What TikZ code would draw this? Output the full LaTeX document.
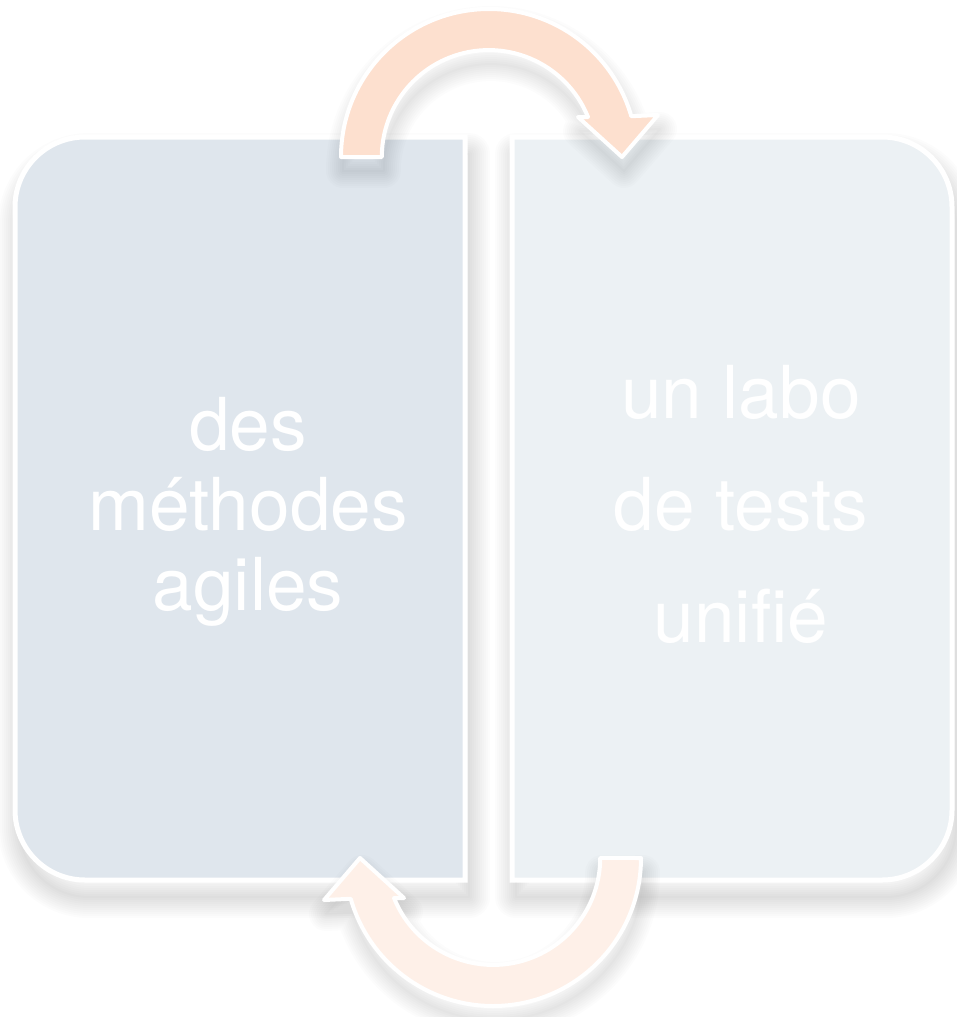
\documentclass[tikz,border=0pt]{standalone}
\usepackage{fontspec}
\setmainfont{TeX Gyre Heros}
\definecolor{boxL}{HTML}{DFE6ED}
\definecolor{boxR}{HTML}{ECF1F4}
\definecolor{arrT}{HTML}{FDE0CF}
\definecolor{arrB}{HTML}{FEF0E8}
\newcommand\pathLeftPanel{(465,137) -- (85,137) arc[start angle=270, end angle=180, radius=70] -- (15,810) arc[start angle=180, end angle=90, radius=70] -- (465,880) -- cycle}
\newcommand\pathRightPanel{(512,137) -- (882,137) arc[start angle=270, end angle=360, radius=70] -- (952,810) arc[start angle=0, end angle=90, radius=70] -- (512,880) -- cycle}
\newcommand\pathCurveArrow{(341,157) arc[start angle=180, end angle=344, radius=148] -- (658,115) -- (622,157) -- (578,117) -- (588,117) arc[start angle=338, end angle=180, radius=107] -- cycle}
\tikzset{
  panel/.style={draw=white, line width=5pt},
  curvearrow/.style={draw=white, line width=4pt, line join=round},
  softshade/.style={draw=black, draw opacity=0.011, line width=#1, line join=round},
  label/.style={text=white, anchor=base, font=\fontsize{73}{80}\selectfont, inner sep=0pt}
}
\begin{document}
\begin{tikzpicture}[x=1pt,y=-1pt]
\useasboundingbox (0,0) rectangle (957,1017);
% panel shadows
\begin{scope}[shift={(4,17)}]
\foreach \w in {2,6,...,42} {
  \path[softshade=\w pt] \pathLeftPanel;
  \path[softshade=\w pt] \pathRightPanel;
}
\end{scope}
% panels
\path[panel, fill=boxL] \pathLeftPanel;
\path[panel, fill=boxR] \pathRightPanel;
% arrow shadows
\begin{scope}[shift={(2,14)}]
\foreach \w in {2,6,...,34} { \path[softshade=\w pt] \pathCurveArrow; }
\end{scope}
\begin{scope}[rotate around={180:(491,507.5)}, shift={(-2,-14)}]
\foreach \w in {2,6,...,34} { \path[softshade=\w pt] \pathCurveArrow; }
\end{scope}
% top arrow
\path[curvearrow, fill=arrT] \pathCurveArrow;
% bottom arrow
\begin{scope}[rotate around={180:(491,507.5)}]
\path[curvearrow, fill=arrB] \pathCurveArrow;
\end{scope}
% texts
\node[label] (l1) at (248,450) {des};
\node[label] (l2) at (248,530) {méthodes};
\node[label] (l3) at (248,610) {agiles};
\node[label] (r1) at (741,418) {un labo};
\node[label] (r2) at (741,530) {de tests};
\node[label] (r3) at (741,642) {unifié};
\end{tikzpicture}
\end{document}
